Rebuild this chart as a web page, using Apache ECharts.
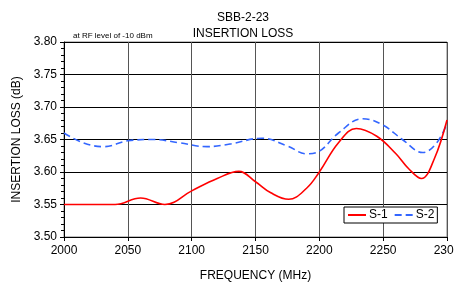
<!DOCTYPE html>
<html><head><meta charset="utf-8">
<script src="https://cdn.jsdelivr.net/npm/echarts@6/dist/echarts.min.js"></script>
<style>html,body{margin:0;padding:0;background:#fff}#c{width:454px;height:284px}</style>
</head><body><div id="c"></div>
<script>
const freqS1 = [2000, 2020, 2040, 2060, 2079, 2100, 2120, 2137, 2150, 2162, 2176, 2190, 2200, 2215, 2229, 2245, 2260, 2270, 2280, 2290, 2300];
const valS1  = [3.550, 3.550, 3.550, 3.560, 3.550, 3.571, 3.590, 3.601, 3.585, 3.568, 3.558, 3.575, 3.600, 3.645, 3.667, 3.655, 3.628, 3.605, 3.590, 3.620, 3.680];
const freqS2 = [2000, 2015, 2031, 2050, 2070, 2090, 2112, 2130, 2155, 2175, 2190, 2200, 2215, 2234, 2250, 2265, 2281, 2292, 2300];
const valS2  = [3.660, 3.645, 3.639, 3.648, 3.650, 3.645, 3.639, 3.643, 3.652, 3.640, 3.628, 3.632, 3.660, 3.682, 3.672, 3.650, 3.630, 3.645, 3.675];
const seriesNames = ['S-1', 'S-2'];
const xTicks = [2000, 2050, 2100, 2150, 2200, 2250, 2300];
const yTicks = [3.50, 3.55, 3.60, 3.65, 3.70, 3.75, 3.80];

const FONT = 'Liberation Sans';
const gridBox = {left: 64, right: 7, top: 42, bottom: 47, outerBoundsMode: 'none', containLabel: false};
const chart = echarts.init(document.getElementById('c'), null, {renderer: 'canvas'});
chart.setOption({
  animation: false,
  backgroundColor: '#fff',
  textStyle: {fontFamily: FONT},
  title: [
    {text: 'SBB-2-23\nINSERTION LOSS', left: 238, top: 5, textAlign: 'center',
     textStyle: {fontFamily: FONT, fontSize: 12, fontWeight: 'normal', color: '#000', lineHeight: 16}},
    {text: 'at RF level of -10 dBm', left: 68, top: 27,
     textStyle: {fontFamily: FONT, fontSize: 8, fontWeight: 'normal', color: '#000'}}
  ],
  legend: {
    data: seriesNames, left: 344, top: 207, orient: 'horizontal',
    backgroundColor: '#fff', borderColor: '#000', borderWidth: 1, borderRadius: 0,
    padding: [2, 3, 2, 3], itemGap: 6, itemWidth: 18, itemHeight: 10,
    itemStyle: {opacity: 0, borderWidth: 0},
    textStyle: {fontFamily: FONT, fontSize: 12, color: '#000', padding: [0, 0, 0, -2]}
  },
  grid: Object.assign({show: true, borderColor: '#808080', borderWidth: 1}, gridBox),
  xAxis: {
    type: 'value', min: 2000, max: 2300, interval: 50,
    name: 'FREQUENCY (MHz)', nameLocation: 'middle', nameGap: 33,
    nameTextStyle: {fontFamily: FONT, fontSize: 12, color: '#000'},
    axisLine: {show: true, lineStyle: {color: '#000', width: 1}},
    axisTick: {show: true, length: 4, lineStyle: {color: '#000'}},
    axisLabel: {fontFamily: FONT, fontSize: 12, color: '#000', margin: 8, hideOverlap: false,
      showMaxLabel: true, formatter: v => String(v)},
    splitLine: {show: true, lineStyle: {color: '#555', width: 1}}
  },
  yAxis: {
    type: 'value', min: 3.5, max: 3.8, interval: 0.05,
    name: 'INSERTION LOSS (dB)', nameLocation: 'middle', nameGap: 41,
    nameTextStyle: {fontFamily: FONT, fontSize: 12, color: '#000'},
    axisLine: {show: true, lineStyle: {color: '#000', width: 1}},
    axisTick: {show: true, length: 4, lineStyle: {color: '#000'}},
    minorTick: {show: true, splitNumber: 5, length: 3, lineStyle: {color: '#000', width: 1}},
    axisLabel: {fontFamily: FONT, fontSize: 12, color: '#000', margin: 7,
      formatter: v => v.toFixed(2)},
    splitLine: {show: true, lineStyle: {color: '#000', width: 1}}
  },
  series: [
    {name: seriesNames[0], type: 'line', smooth: 0.4, symbol: 'none',
     data: freqS1.map((f, i) => [f, valS1[i]]),
     lineStyle: {color: '#ff0000', width: 1.6}, itemStyle: {color: '#ff0000'}, z: 3},
    {name: seriesNames[1], type: 'line', smooth: 0.4, symbol: 'none',
     data: freqS2.map((f, i) => [f, valS2[i]]),
     lineStyle: {color: '#3366ff', width: 1.6, type: [7, 4]}, itemStyle: {color: '#3366ff'}, z: 2}
  ]
});
</script></body></html>
